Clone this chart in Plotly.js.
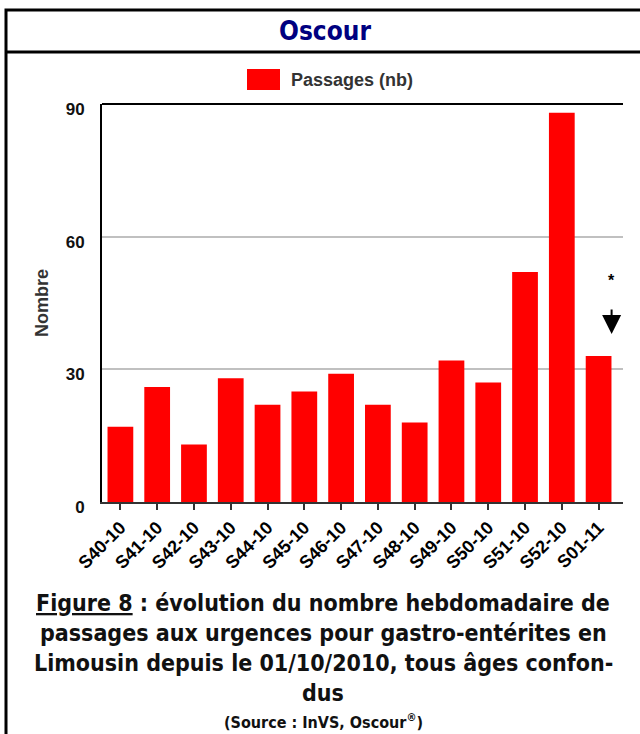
<!DOCTYPE html>
<html>
<head>
<meta charset="utf-8">
<script src="https://cdn.plot.ly/plotly-3.0.1.min.js"></script>
<style>html,body{margin:0;padding:0;background:#fff;}#chart{width:640px;height:734px;}</style>
</head>
<body>
<div id="chart"></div>
<script>
// Data
const weeks = ["S40-10","S41-10","S42-10","S43-10","S44-10","S45-10","S46-10","S47-10","S48-10","S49-10","S50-10","S51-10","S52-10","S01-11"];
const passages = [17, 26, 13, 28, 22, 25, 29, 22, 18, 32, 27, 52, 88, 33];
const yTicks = [0, 30, 60, 90];
const seriesName = "Passages (nb)";
const chartTitle = "Oscour";
const yTitle = "Nombre";
const captionLines = [
  '<span style="text-decoration:underline">Figure 8</span> : évolution du nombre hebdomadaire de',
  'passages aux urgences pour gastro-entérites en',
  'Limousin depuis le 01/10/2010, tous âges confon-',
  'dus'
];
const sourceText = '(Source : InVS, Oscour<sup>®</sup>)';

// layout geometry helpers (pixel -> paper)
const L = 102, R = 623, T = 104, B = 502, W = 640, H = 734;
const px = x => (x - L) / (R - L);
const py = y => (B - y) / (B - T);

const capFont = {family: '"DejaVu Sans Condensed", "DejaVu Sans", sans-serif', size: 23, color: '#111', weight: 'bold'};

const annotations = [
  {xref:'paper', yref:'paper', x: px(289), y: py(80), xanchor:'left', yanchor:'middle', showarrow:false,
   text: seriesName, font:{family:'"Liberation Sans", Arial, sans-serif', size:18, color:'#333', weight:'bold'}},
  {xref:'paper', yref:'paper', x: px(42), y: py(303), xanchor:'center', yanchor:'middle', showarrow:false,
   textangle:-90, text: yTitle, font:{family:'"Liberation Sans", Arial, sans-serif', size:18, color:'#333', weight:'bold'}},
  // arrow to last bar
  {x: weeks[weeks.length-1], y: passages[passages.length-1] + 5, xref:'x', yref:'y', xshift: 13,
   showarrow:true, ax:0, ay:-26, arrowhead:2, arrowsize:1.9, arrowwidth:2, arrowcolor:'#000', text:''},
  {x: weeks[weeks.length-1], y: passages[passages.length-1] + 5, xref:'x', yref:'y', xshift: 13, yshift: 53,
   showarrow:false, text:'*', font:{family:'"Liberation Sans", Arial, sans-serif', size:16, color:'#000', weight:'bold'}}
];
const capY = [603, 633, 663, 693];
captionLines.forEach((t, i) => {
  annotations.push({xref:'paper', yref:'paper', x: px(323), y: py(capY[i]), xanchor:'center', yanchor:'middle',
    showarrow:false, text: t, font: capFont});
});
annotations.push({xref:'paper', yref:'paper', x: px(323), y: py(721), xanchor:'center', yanchor:'middle',
  showarrow:false, text: sourceText, font:{family:capFont.family, size:16, color:'#111', weight:'bold'}});

const shapes = [
  // outer frame
  {type:'rect', xref:'paper', yref:'paper', x0: px(6), x1: px(660), y0: py(760), y1: py(10), line:{color:'#000', width:3}, fillcolor:'rgba(0,0,0,0)'},
  // title separator
  {type:'line', xref:'paper', yref:'paper', x0: px(6), x1: px(660), y0: py(52), y1: py(52), line:{color:'#000', width:3}},
  // top plot line
  {type:'line', xref:'paper', yref:'paper', x0: 0, x1: 1, y0: 1, y1: 1, line:{color:'#000', width:2}},
  // legend swatch
  {type:'rect', xref:'paper', yref:'paper', x0: px(247), x1: px(280), y0: py(90), y1: py(69), line:{width:0}, fillcolor:'#ff0000'}
];

const data = [{
  type:'bar', x: weeks, y: passages, name: seriesName,
  marker:{color:'#ff0000', line:{width:0}}, hoverinfo:'x+y'
}];

const layout = {
  width: W, height: H,
  margin:{l:L, r:W-R, t:T, b:H-B, pad:0},
  paper_bgcolor:'#fff', plot_bgcolor:'#fff',
  showlegend:false,
  bargap:0.3,
  title:{text: chartTitle, xref:'paper', x: px(325), xanchor:'center', yref:'container', y: 1 - 31/H, yanchor:'middle',
    font:{family:'"DejaVu Sans Condensed", "DejaVu Sans", sans-serif', size:26, color:'#000080', weight:'bold'}},
  xaxis:{type:'category', tickangle:-45, showgrid:false, showline:true, linecolor:'#333', linewidth:2,
    ticks:'outside', ticklen:6, tickwidth:2, tickcolor:'#333',
    tickfont:{family:'"Liberation Sans", Arial, sans-serif', size:18, color:'#000', weight:'bold'},
    fixedrange:true},
  yaxis:{range:[0,90], tickvals:yTicks, ticktext:yTicks.map(String), showgrid:true, gridcolor:'#c0c0c0', gridwidth:2,
    zeroline:false, showline:true, linecolor:'#000', linewidth:2, ticks:'', ticklabelstandoff:12, ticklabelshift:5,
    tickfont:{family:'"Liberation Sans", Arial, sans-serif', size:17, color:'#111', weight:'bold'},
    fixedrange:true},
  shapes, annotations
};

Plotly.newPlot('chart', data, layout, {displayModeBar:false, staticPlot:true});
</script>
</body>
</html>
